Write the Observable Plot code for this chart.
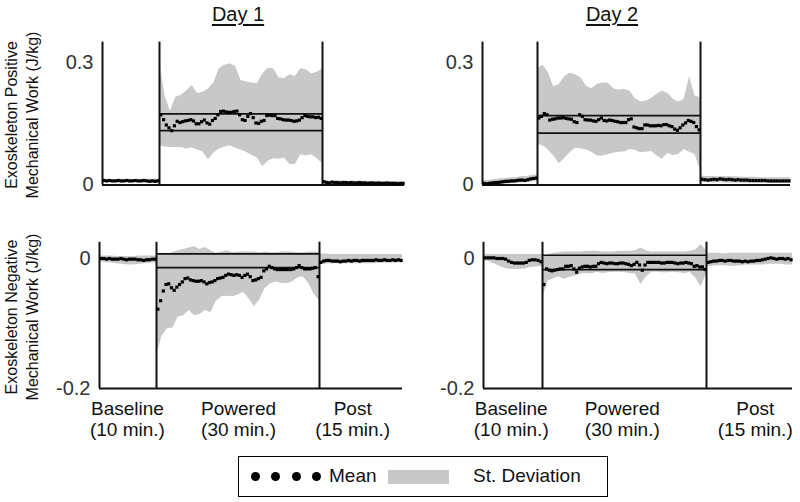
<!DOCTYPE html>
<html>
<head>
<meta charset="utf-8">
<script src="https://cdn.jsdelivr.net/npm/d3@7"></script>
<script src="https://cdn.jsdelivr.net/npm/@observablehq/plot@0.6"></script>
<style>
  body { margin: 0; background: #fff; }
  #wrap { position: relative; width: 800px; height: 502px; overflow: hidden; font-family: "Liberation Sans", Arial, sans-serif; color: #111; }
  #wrap svg { position: absolute; left: 0; top: 0; }
  .title { position: absolute; top: 4px; width: 120px; text-align: center; font-size: 20px; line-height: 20px; text-decoration: underline; text-decoration-thickness: 2px; text-underline-offset: 3px; }
  .ylab { position: absolute; width: 220px; height: 42px; text-align: center; font-size: 16px; line-height: 21px; transform: rotate(-90deg); white-space: nowrap; }
  #legend { position: absolute; left: 238px; top: 456px; width: 370px; height: 41px; border: 1.5px solid #000; box-sizing: border-box; }
  #legend .dot { position: absolute; top: 15px; width: 9px; height: 9px; border-radius: 50%; background: #000; }
  #legend .txt { position: absolute; top: 9px; font-size: 19px; line-height: 20px; }
  #legend .sw { position: absolute; left: 149px; top: 13px; width: 61px; height: 14px; background: #c8c8c8; }
</style>
</head>
<body>
<div id="wrap">
  <div class="title" style="left:178px">Day 1</div>
  <div class="title" style="left:552px">Day 2</div>
  <div class="ylab" style="left:-88px; top:94px">Exoskeleton Positive<br>Mechanical Work (J/kg)</div>
  <div class="ylab" style="left:-88px; top:296px">Exoskeleton Negative<br>Mechanical Work (J/kg)</div>
  <div id="legend">
    <div class="dot" style="left:12px"></div>
    <div class="dot" style="left:32px"></div>
    <div class="dot" style="left:53px"></div>
    <div class="dot" style="left:73px"></div>
    <div class="txt" style="left:90px">Mean</div>
    <div class="sw"></div>
    <div class="txt" style="left:234px">St. Deviation</div>
  </div>
</div>
<script>
// ---- phases (minutes) ----
const phaseNames = ["Baseline", "Powered", "Post"];
const phaseStart = [0, 10, 40];
const phaseEnd = [10, 40, 55];
const phaseLabels = ["Baseline\n(10 min.)", "Powered\n(30 min.)", "Post\n(15 min.)"];
const labelT_day1 = [4.9, 25.1, 46.0];
const labelT_day2 = [4.7, 24.6, 48.5];

// ---- means (every 0.5 min: 20 baseline, 60 powered, 30 post) ----
const d1PosMean = [
  0.011,0.010,0.011,0.010,0.010,0.011,0.010,0.010,0.011,0.010,0.010,0.011,0.010,0.010,0.011,0.010,0.009,0.010,0.009,0.010,
  0.172,0.160,0.147,0.140,0.133,0.145,0.156,0.153,0.155,0.157,
  0.158,0.160,0.157,0.150,0.150,0.155,0.159,0.152,0.149,0.158,
  0.163,0.172,0.180,0.181,0.179,0.178,0.178,0.180,0.181,0.172,
  0.160,0.158,0.168,0.175,0.165,0.152,0.151,0.156,0.158,0.170,
  0.171,0.170,0.170,0.163,0.162,0.160,0.159,0.159,0.158,0.156,
  0.157,0.159,0.165,0.170,0.168,0.167,0.167,0.165,0.166,0.163,
  0.008,0.006,0.005,0.007,0.006,0.006,0.005,0.006,0.006,0.005,0.006,0.005,0.005,0.006,0.005,
  0.005,0.004,0.005,0.005,0.004,0.005,0.004,0.004,0.005,0.004,0.004,0.004,0.003,0.004,0.004
];
const d2PosMean = [
  0.004,0.003,0.004,0.005,0.006,0.006,0.007,0.008,0.009,0.009,0.010,0.010,0.011,0.012,0.012,0.011,0.013,0.015,0.016,0.017,
  0.164,0.168,0.175,0.172,0.159,0.161,0.162,0.164,0.164,0.165,
  0.163,0.162,0.161,0.155,0.153,0.172,0.168,0.160,0.159,0.159,
  0.157,0.156,0.160,0.164,0.158,0.157,0.159,0.158,0.156,0.155,
  0.153,0.153,0.153,0.160,0.162,0.142,0.140,0.138,0.138,0.147,
  0.147,0.145,0.145,0.145,0.146,0.145,0.148,0.148,0.145,0.143,
  0.137,0.134,0.140,0.147,0.152,0.158,0.156,0.153,0.143,0.135,
  0.014,0.013,0.012,0.013,0.014,0.013,0.015,0.014,0.013,0.014,0.013,0.012,0.013,0.012,0.012,
  0.012,0.011,0.011,0.011,0.011,0.011,0.011,0.010,0.010,0.010,0.010,0.010,0.010,0.010,0.010
];
const d1NegMean = [
  0.000,0.000,-0.001,0.000,-0.001,-0.001,-0.001,0.000,-0.001,-0.002,-0.001,-0.001,-0.001,-0.002,-0.002,-0.003,-0.002,-0.002,-0.001,-0.001,
  -0.078,-0.065,-0.050,-0.040,-0.039,-0.045,-0.049,-0.044,-0.040,-0.036,
  -0.031,-0.030,-0.033,-0.034,-0.035,-0.035,-0.034,-0.036,-0.039,-0.037,
  -0.036,-0.034,-0.031,-0.030,-0.029,-0.026,-0.024,-0.025,-0.026,-0.025,
  -0.026,-0.029,-0.026,-0.024,-0.028,-0.034,-0.033,-0.031,-0.029,-0.019,
  -0.016,-0.012,-0.014,-0.016,-0.017,-0.017,-0.017,-0.017,-0.017,-0.017,
  -0.016,-0.014,-0.011,-0.014,-0.016,-0.016,-0.016,-0.015,-0.014,-0.028,
  -0.006,-0.004,-0.003,-0.003,-0.004,-0.004,-0.004,-0.005,-0.004,-0.004,-0.003,-0.004,-0.003,-0.003,-0.004,
  -0.003,-0.003,-0.003,-0.003,-0.003,-0.002,-0.003,-0.003,-0.002,-0.003,-0.003,-0.002,-0.003,-0.002,-0.003
];
const d2NegMean = [
  0.001,0.001,0.001,0.001,0.000,0.000,0.000,-0.001,-0.004,-0.006,-0.007,-0.007,-0.007,-0.007,-0.006,-0.003,-0.002,-0.002,-0.003,-0.005,
  -0.040,-0.016,-0.018,-0.019,-0.018,-0.017,-0.016,-0.016,-0.012,-0.012,
  -0.011,-0.016,-0.021,-0.015,-0.013,-0.012,-0.012,-0.013,-0.012,-0.012,
  -0.008,-0.006,-0.007,-0.008,-0.007,-0.007,-0.008,-0.008,-0.007,-0.007,
  -0.008,-0.009,-0.011,-0.009,-0.006,-0.010,-0.018,-0.010,-0.006,-0.006,
  -0.006,-0.006,-0.006,-0.007,-0.007,-0.006,-0.006,-0.006,-0.007,-0.008,
  -0.007,-0.007,-0.006,-0.007,-0.008,-0.012,-0.011,-0.013,-0.013,-0.017,
  -0.006,-0.005,-0.004,-0.004,-0.003,-0.003,-0.004,-0.003,-0.003,-0.004,-0.004,-0.004,-0.005,-0.004,-0.005,
  -0.004,-0.004,-0.003,-0.003,-0.002,-0.001,0.000,0.001,0.000,-0.001,0.000,0.000,-0.001,0.000,-0.002
];

// ---- standard deviation band edges (every 1 min: 11 baseline, 31 powered, 16 post) ----
const d1PosLo = [
  0.006,0.006,0.007,0.006,0.006,0.006,0.007,0.006,0.006,0.005,0.005,
  0.096,0.093,0.092,0.092,0.092,0.088,0.091,0.086,0.081,0.062,0.078,0.088,0.093,0.096,0.090,0.086,
  0.080,0.073,0.066,0.045,0.058,0.064,0.063,0.066,0.050,0.050,0.074,0.071,0.074,0.065,0.052,
  0.003,0.002,0.002,0.002,0.002,0.002,0.002,0.001,0.001,0.001,0.001,0.001,0.001,0.001,0.001,0.001
];
const d1PosHi = [
  0.014,0.014,0.013,0.014,0.014,0.014,0.013,0.014,0.014,0.014,0.015,
  0.300,0.220,0.180,0.215,0.220,0.230,0.244,0.224,0.227,0.235,0.250,0.285,0.293,0.297,0.290,0.256,
  0.252,0.250,0.248,0.272,0.286,0.285,0.262,0.260,0.270,0.266,0.285,0.282,0.272,0.276,0.285,
  0.012,0.010,0.009,0.010,0.010,0.009,0.009,0.009,0.009,0.008,0.008,0.008,0.008,0.008,0.008,0.007
];
const d2PosLo = [
  0.000,0.000,0.000,0.001,0.002,0.003,0.004,0.005,0.006,0.008,0.009,
  0.100,0.096,0.086,0.071,0.052,0.065,0.079,0.090,0.089,0.086,0.080,0.071,0.071,0.074,0.078,0.080,
  0.081,0.087,0.085,0.079,0.080,0.082,0.071,0.063,0.078,0.072,0.075,0.087,0.080,0.075,0.035,
  0.006,0.006,0.005,0.006,0.005,0.005,0.005,0.004,0.004,0.004,0.004,0.004,0.004,0.004,0.004,0.004
];
const d2PosHi = [
  0.010,0.011,0.013,0.015,0.016,0.017,0.018,0.020,0.021,0.023,0.025,
  0.285,0.293,0.275,0.240,0.246,0.265,0.274,0.270,0.262,0.242,0.236,0.246,0.250,0.250,0.236,0.232,
  0.234,0.230,0.212,0.204,0.205,0.212,0.222,0.230,0.224,0.210,0.203,0.210,0.265,0.218,0.214,
  0.022,0.021,0.021,0.020,0.021,0.020,0.020,0.019,0.019,0.019,0.018,0.018,0.018,0.018,0.018,0.018
];
const d1NegLo = [
  -0.005,-0.006,-0.007,-0.008,-0.009,-0.010,-0.010,-0.009,-0.008,-0.007,-0.007,
  -0.150,-0.120,-0.108,-0.107,-0.090,-0.088,-0.080,-0.088,-0.086,-0.080,-0.083,-0.066,-0.059,-0.058,-0.059,-0.056,
  -0.052,-0.062,-0.074,-0.064,-0.046,-0.039,-0.036,-0.038,-0.039,-0.036,-0.030,-0.028,-0.038,-0.055,-0.065,
  -0.010,-0.009,-0.008,-0.008,-0.008,-0.008,-0.008,-0.008,-0.008,-0.008,-0.008,-0.007,-0.007,-0.007,-0.007,-0.007
];
const d1NegHi = [
  0.004,0.004,0.004,0.003,0.003,0.003,0.003,0.004,0.004,0.004,0.004,
  0.005,0.008,0.007,0.009,0.012,0.014,0.016,0.018,0.014,0.017,0.012,0.008,0.010,0.012,0.009,0.010,
  0.010,0.010,0.010,0.009,0.010,0.009,0.009,0.010,0.010,0.010,0.009,0.009,0.010,0.010,0.010,
  0.007,0.007,0.006,0.006,0.006,0.006,0.006,0.006,0.006,0.006,0.006,0.006,0.006,0.006,0.006,0.006
];
const d2NegLo = [
  -0.003,-0.005,-0.009,-0.013,-0.016,-0.017,-0.017,-0.016,-0.014,-0.013,-0.012,
  -0.062,-0.035,-0.031,-0.028,-0.032,-0.029,-0.027,-0.024,-0.023,-0.024,-0.021,-0.023,-0.022,-0.021,-0.021,-0.022,
  -0.023,-0.024,-0.040,-0.028,-0.021,-0.021,-0.022,-0.022,-0.021,-0.022,-0.023,-0.021,-0.030,-0.044,-0.024,
  -0.012,-0.012,-0.011,-0.011,-0.012,-0.012,-0.011,-0.010,-0.010,-0.010,-0.010,-0.009,-0.009,-0.009,-0.010,-0.010
];
const d2NegHi = [
  0.006,0.006,0.006,0.006,0.006,0.006,0.006,0.006,0.006,0.006,0.006,
  0.000,0.006,0.008,0.009,0.010,0.010,0.010,0.010,0.011,0.011,0.011,0.010,0.010,0.010,0.011,0.011,
  0.011,0.012,0.016,0.012,0.010,0.010,0.010,0.010,0.010,0.010,0.010,0.011,0.013,0.021,0.012,
  0.008,0.008,0.008,0.007,0.008,0.008,0.008,0.008,0.008,0.008,0.008,0.008,0.008,0.008,0.008,0.008
];

// ---- horizontal reference lines across the powered phase ----
const d1PosBox = [0.174, 0.133];
const d2PosBox = [0.170, 0.127];
const d1NegBox = [0.007, -0.014];
const d2NegBox = [0.005, -0.017];

// ---- axis ticks ----
const posTicks = [0, 0.3];
const negTicks = [0, -0.2];

function buildMeans(vals) {
  const out = []; let k = 0;
  for (let p = 0; p < 3; p++)
    for (let t = phaseStart[p] + 0.25; t < phaseEnd[p]; t += 0.5) out.push({t, v: vals[k++]});
  return out;
}
function buildBand(lo, hi) {
  const out = []; let k = 0;
  for (let p = 0; p < 3; p++)
    for (let t = phaseStart[p]; t <= phaseEnd[p]; t++) { out.push({t, lo: lo[k], hi: hi[k], phase: phaseNames[p]}); k++; }
  return out;
}

function panel({mean, lo, hi, box, xRange, yDomain, yRange, ticks, labelT}) {
  const W = 800, H = 502;
  const x0 = xRange[0], x3 = xRange[3];
  // piecewise time warp: each phase gets its own share of the panel width
  const warp = d3.scaleLinear()
    .domain([phaseStart[0], phaseStart[1], phaseStart[2], phaseEnd[2]])
    .range(xRange.map(v => (v - x0) / (x3 - x0)));
  const marks = [
    Plot.areaY(buildBand(lo, hi), {x: "t", y1: "lo", y2: "hi", z: "phase", fill: "#c8c8c8", curve: "linear"}),
    Plot.ruleY(box, {x1: () => phaseStart[1], x2: () => phaseEnd[1], stroke: "#111", strokeWidth: 1.7}),
    Plot.ruleX([phaseStart[1], phaseEnd[1]], {stroke: "#111", strokeWidth: 2}),
    Plot.ruleX([phaseStart[0]], {stroke: "#111", strokeWidth: 2}),
    Plot.ruleY([yDomain[0]], {stroke: "#111", strokeWidth: 2}),
    Plot.dot(buildMeans(mean), {x: "t", y: "v", symbol: "square", r: 1.8, fill: "#000", stroke: "none"})
  ];
  if (labelT) {
    marks.push(Plot.text(phaseLabels.map((s, i) => ({label: s, t: labelT[i]})), {
      x: "t", text: "label", frameAnchor: "bottom", lineAnchor: "top", dy: 12, fontSize: 19, lineHeight: 1.08, fill: "#111"
    }));
  }
  return Plot.plot({
    width: W, height: H,
    marginLeft: x0, marginRight: W - x3,
    marginTop: yRange[1], marginBottom: H - yRange[0],
    style: {background: "transparent", fontFamily: "'Liberation Sans', Arial, sans-serif", fontSize: "20px", color: "#333", overflow: "visible"},
    x: {transform: warp, domain: [0, 1], range: [x0, x3], axis: null},
    y: {domain: yDomain, range: yRange, ticks: ticks, tickSize: 0, tickPadding: 9, tickFormat: d => String(d), label: null},
    marks
  });
}

const wrap = document.getElementById("wrap");
wrap.appendChild(panel({mean: d1PosMean, lo: d1PosLo, hi: d1PosHi, box: d1PosBox,
  xRange: [102, 159, 322, 404], yDomain: [0, 0.35], yRange: [184.5, 41.6], ticks: posTicks}));
wrap.appendChild(panel({mean: d2PosMean, lo: d2PosLo, hi: d2PosHi, box: d2PosBox,
  xRange: [482, 537, 700, 790], yDomain: [0, 0.35], yRange: [184.5, 41.6], ticks: posTicks}));
wrap.appendChild(panel({mean: d1NegMean, lo: d1NegLo, hi: d1NegHi, box: d1NegBox,
  xRange: [99, 156, 319, 402], yDomain: [-0.2, 0.025], yRange: [388, 241.75], ticks: negTicks, labelT: labelT_day1}));
wrap.appendChild(panel({mean: d2NegMean, lo: d2NegLo, hi: d2NegHi, box: d2NegBox,
  xRange: [483, 542, 706, 792], yDomain: [-0.2, 0.025], yRange: [388, 241.75], ticks: negTicks, labelT: labelT_day2}));
</script>
</body>
</html>
